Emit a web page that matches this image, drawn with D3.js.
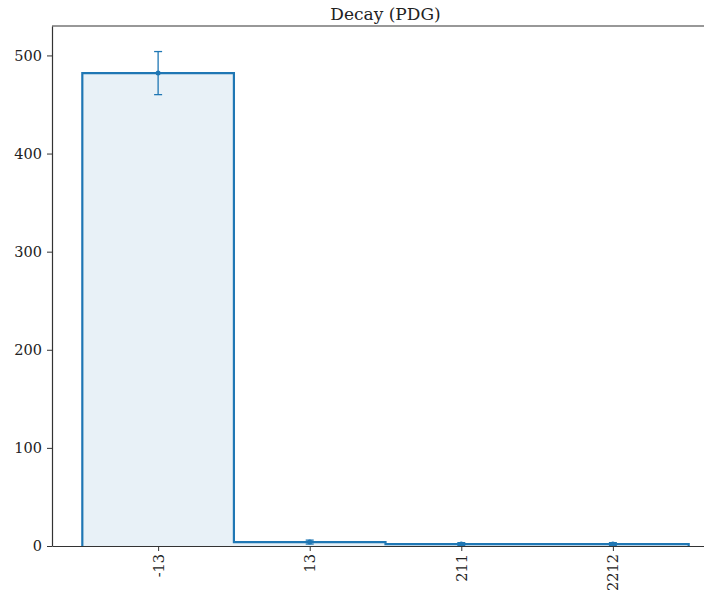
<!DOCTYPE html>
<meta charset="utf-8">
<style>
body { margin: 0; background: #fff; }
text { font-family: "DejaVu Serif", serif; fill: #222; }
.axis path, .axis line { stroke: #333; }
</style>
<svg width="704" height="594"></svg>
<script src="https://cdn.jsdelivr.net/npm/d3@7"></script>
<script>
// categories (PDG codes) and counts per bin
var categories = ["-13", "13", "211", "2212"];
var counts = [482, 4, 2, 2];
var errors = [21.95, 2, 1.41, 1.41];
var yTicks = [0, 100, 200, 300, 400, 500];
var title = "Decay (PDG)";

var svg = d3.select("svg"),
    margin = {top: 26, left: 52, right: -15, bottom: 48},
    width = 704 - margin.left - margin.right,
    height = 594 - margin.top - margin.bottom,
    g = svg.append("g").attr("transform", "translate(" + margin.left + "," + margin.top + ")");

var color = "#1f77b4";

// bins sit on integer positions, 5% padding on both sides like matplotlib
var x = d3.scaleLinear().domain([-0.7, categories.length - 0.3]).range([0, width]);
var y = d3.scaleLinear().domain([0, 530]).range([height, 0]);

// filled step histogram
var steps = [];
counts.forEach(function(c, i) {
  steps.push([i - 0.5, c]);
  steps.push([i + 0.5, c]);
});
var area = d3.area()
    .x(function(d) { return x(d[0]); })
    .y0(y(0))
    .y1(function(d) { return y(d[1]); });
g.append("path")
    .datum(steps)
    .attr("fill", color)
    .attr("fill-opacity", 0.1)
    .attr("d", area);

var line = d3.line()
    .x(function(d) { return x(d[0]); })
    .y(function(d) { return y(d[1]); });
var outline = [[-0.5, 0]].concat(steps).concat([[categories.length - 0.5, 0]]);
g.append("path")
    .datum(outline)
    .attr("fill", "none")
    .attr("stroke", color)
    .attr("stroke-width", 2.2)
    .attr("d", line);

// error bars
var eb = g.selectAll(".err").data(counts).enter().append("g").attr("class", "err");
eb.append("line")
    .attr("x1", function(d, i) { return x(i); })
    .attr("x2", function(d, i) { return x(i); })
    .attr("y1", function(d, i) { return y(d - errors[i]); })
    .attr("y2", function(d, i) { return y(d + errors[i]); })
    .attr("stroke", color).attr("stroke-width", 1.3);
[-1, 1].forEach(function(s) {
  eb.append("line")
      .attr("x1", function(d, i) { return x(i) - 4; })
      .attr("x2", function(d, i) { return x(i) + 4; })
      .attr("y1", function(d, i) { return y(d + s * errors[i]); })
      .attr("y2", function(d, i) { return y(d + s * errors[i]); })
      .attr("stroke", color).attr("stroke-width", 1.3);
});
eb.append("circle")
    .attr("cx", function(d, i) { return x(i); })
    .attr("cy", function(d) { return y(d); })
    .attr("r", 2.5)
    .attr("fill", color);

// axes
var xAxis = g.append("g")
    .attr("class", "axis")
    .attr("transform", "translate(0," + height + ")")
    .call(d3.axisBottom(x)
      .tickValues(d3.range(categories.length))
      .tickFormat(function(i) { return categories[i]; })
      .tickSize(5).tickSizeOuter(0));
xAxis.selectAll("text")
    .attr("font-size", 14.5)
    .attr("transform", "rotate(-90)")
    .attr("text-anchor", "end")
    .attr("x", -8)
    .attr("y", 0)
    .attr("dy", "0.35em");

var yAxis = g.append("g")
    .attr("class", "axis")
    .call(d3.axisLeft(y).tickValues(yTicks).tickSize(5).tickSizeOuter(0).tickPadding(5));
yAxis.selectAll("text").attr("font-size", 14.5);
xAxis.select(".domain").attr("stroke-width", 1.2);
yAxis.select(".domain").attr("stroke-width", 1.2);

// top spine
g.append("line")
    .attr("x1", 0).attr("x2", width)
    .attr("y1", 0).attr("y2", 0)
    .attr("stroke", "#333").attr("stroke-width", 1.2);

svg.append("text")
    .attr("x", margin.left + width / 2)
    .attr("y", 20)
    .attr("text-anchor", "middle")
    .attr("font-size", 17)
    .text(title);
</script>
